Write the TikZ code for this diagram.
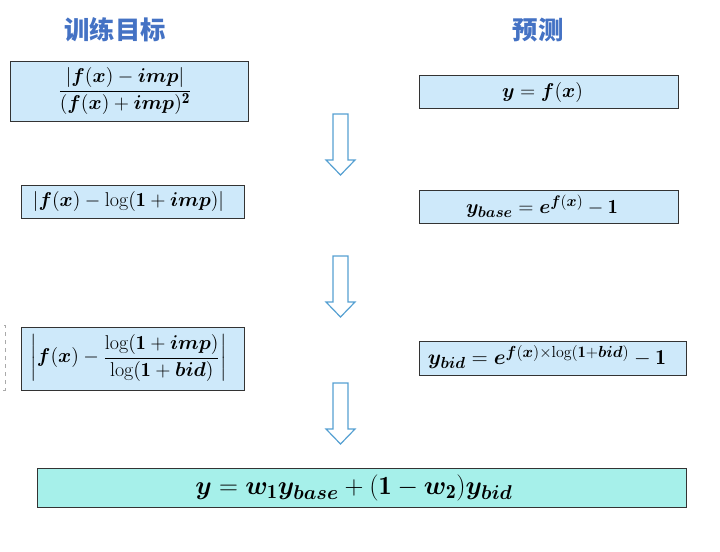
\documentclass[tikz,border=0pt]{standalone}
\usepackage{fix-cm}
\usepackage{amsmath,bm}
\usepackage{fontspec}
\newfontfamily\cjk{Noto Sans CJK SC}
\DeclareMathSizes{15}{15}{11.5}{9}
\DeclareMathSizes{16}{16}{12}{9.5}
\DeclareMathSizes{19.7}{19.7}{15}{11.5}

\tikzset{every picture/.style={line width=0.75pt}}
\tikzset{
	formbox/.style={draw={rgb, 255:red, 51; green, 51; blue, 51 }, fill={rgb, 255:red, 206; green, 233; blue, 250 }},
	sumbox/.style={draw={rgb, 255:red, 51; green, 51; blue, 51 }, fill={rgb, 255:red, 166; green, 240; blue, 234 }},
	downarrow/.style={draw={rgb, 255:red, 86; green, 160; blue, 210 }, fill=white, line width=0.9pt},
	formtext/.style={font=\fontsize{15}{17}\selectfont},
	titletext/.style={font=\cjk\bfseries\fontsize{19}{21}\selectfont, text={rgb, 255:red, 68; green, 114; blue, 196 }}}

\begin{document}
\begin{tikzpicture}[x=0.75pt,y=0.75pt,yscale=-1,xscale=1]
	\useasboundingbox (0,0) rectangle (720,551);

	%Dashed Rectangle (cut at left edge)
	\draw  [color={rgb, 255:red, 170; green, 170; blue, 170 }, dashed, line width=0.5pt] (-20,325) rectangle (5,390) ;

	%Shape: Rectangle (loss, left column)
	\draw  [formbox] (10,61) rectangle (248,121) ;
	\draw  [formbox] (21,185) rectangle (244,218) ;
	\draw  [formbox] (21,327) rectangle (244,390) ;
	%Shape: Rectangle (prediction, right column)
	\draw  [formbox] (419,75) rectangle (678,108) ;
	\draw  [formbox] (419,190) rectangle (678,223) ;
	\draw  [formbox] (419,341) rectangle (686,375) ;
	%Shape: Rectangle (final blend)
	\draw  [sumbox] (37,468) rectangle (686,507) ;

	%Down Arrow
	\foreach \ya in {114,256,383}
		\draw  [downarrow] (333,\ya) -- (348,\ya) -- (348,\ya+46) -- (355,\ya+46) -- (340.5,\ya+61) -- (326,\ya+46) -- (333,\ya+46) -- cycle ;

	% Text Node
	\node [titletext] (trainTitle) at (115,30) {训练目标};
	% Text Node
	\node [titletext] (predTitle) at (538,30) {预测};
	% Text Node
	\node [formtext] (lossA) at (125,91) {$\dfrac{|\bm{f}(\bm{x})-\bm{imp}|}{(\bm{f}(\bm{x})+\bm{imp})^{\mathbf{2}}}$};
	% Text Node
	\node [formtext] (lossB) at (128.5,201.5) {$|\bm{f}(\bm{x})-\log(\mathbf{1}+\bm{imp})|$};
	% Text Node
	\node [formtext] (lossC) at (128.5,358) {$\left|\bm{f}(\bm{x})-\dfrac{\log(\mathbf{1}+\bm{imp})}{\log(\mathbf{1}+\bm{bid})}\right|$};
	% Text Node
	\node [formtext] (predA) at (542.5,92) {$\bm{y}=\bm{f}(\bm{x})$};
	% Text Node
	\node [formtext] (predB) at (542,206) {$\bm{y}_{\bm{base}}=\bm{e}^{\bm{f}(\bm{x})}-\mathbf{1}$};
	% Text Node
	\node [formtext, font=\fontsize{16}{18}\selectfont] (predC) at (547,357) {$\bm{y}_{\bm{bid}}=\bm{e}^{\bm{f}(\bm{x})\times\log(\mathbf{1}+\bm{bid})}-\mathbf{1}$};
	% Text Node
	\node [formtext, font=\fontsize{19.7}{22}\selectfont] (blend) at (354,488) {$\bm{y}=\bm{w}_{\mathbf{1}}\bm{y}_{\bm{base}}+(\mathbf{1}-\bm{w}_{\mathbf{2}})\bm{y}_{\bm{bid}}$};

\end{tikzpicture}
\end{document}
